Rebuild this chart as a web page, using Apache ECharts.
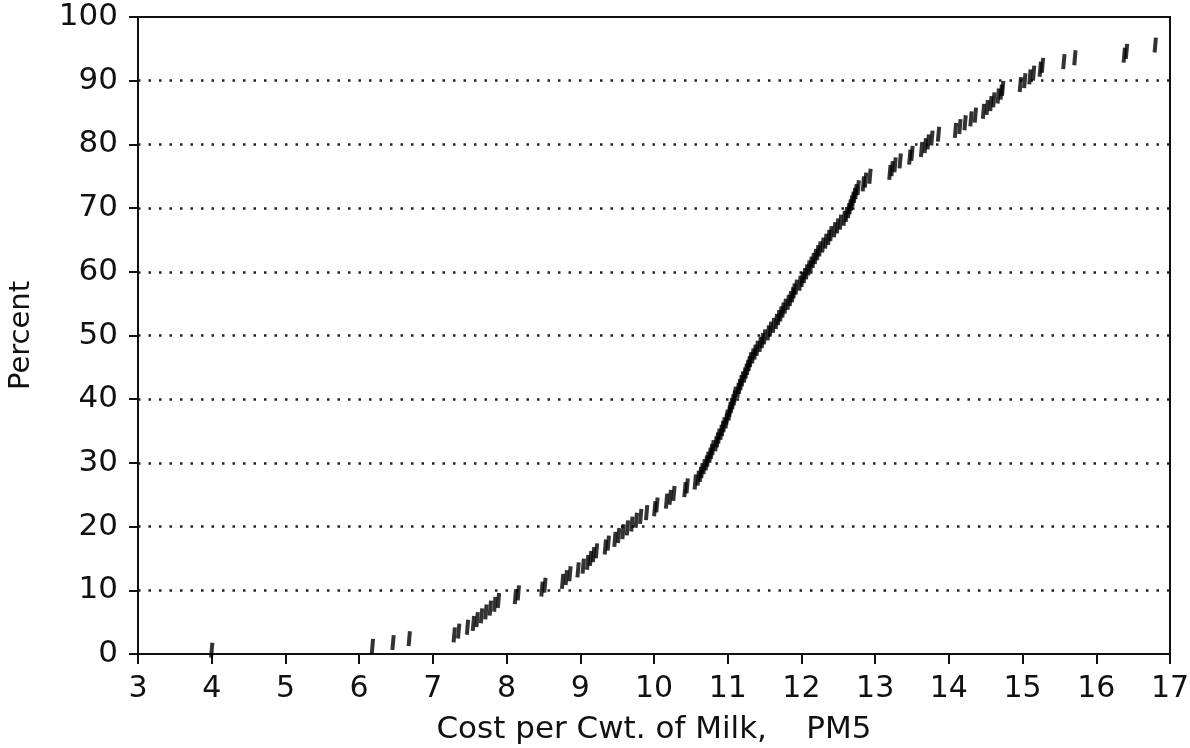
<!DOCTYPE html>
<html>
<head>
<meta charset="utf-8">
<style>
  body { margin: 0; background: #fff; }
</style>
</head>
<body>
<div id="main" style="width: 1190px;height:748px;"></div>
<script src="https://cdn.jsdelivr.net/npm/echarts@6/dist/echarts.min.js" type="text/javascript"></script>
<script type="text/javascript">

    // cost per cwt of milk (x) and cumulative percent (y)
    var costs = [
        4.00, 6.18, 6.46, 6.68, 7.29, 7.35, 7.47, 7.55, 7.60, 7.66,
        7.72, 7.78, 7.84, 7.89, 8.12, 8.16, 8.48, 8.52, 8.76, 8.81,
        8.86, 8.97, 9.04, 9.10, 9.14, 9.18, 9.22, 9.34, 9.38, 9.47,
        9.52, 9.58, 9.64, 9.70, 9.76, 9.82, 9.90, 10.01, 10.04, 10.17,
        10.22, 10.27, 10.42, 10.45, 10.56, 10.60, 10.63, 10.65, 10.68, 10.71,
        10.73, 10.76, 10.78, 10.80, 10.84, 10.86, 10.88, 10.91, 10.93, 10.95,
        10.98, 10.99, 11.02, 11.03, 11.05, 11.07, 11.09, 11.10, 11.14, 11.16,
        11.18, 11.20, 11.23, 11.25, 11.27, 11.29, 11.31, 11.34, 11.37, 11.40,
        11.44, 11.47, 11.50, 11.55, 11.58, 11.62, 11.66, 11.69, 11.72, 11.75,
        11.78, 11.82, 11.85, 11.88, 11.90, 11.93, 11.98, 12.01, 12.04, 12.07,
        12.10, 12.13, 12.16, 12.19, 12.22, 12.25, 12.29, 12.33, 12.37, 12.40,
        12.45, 12.49, 12.53, 12.58, 12.61, 12.64, 12.66, 12.68, 12.70, 12.72,
        12.74, 12.77, 12.84, 12.87, 12.93, 13.20, 13.23, 13.27, 13.34, 13.47,
        13.50, 13.63, 13.68, 13.72, 13.77, 13.86, 14.09, 14.15, 14.22, 14.30,
        14.36, 14.47, 14.52, 14.57, 14.61, 14.67, 14.71, 14.73, 14.97, 15.03,
        15.10, 15.15, 15.24, 15.27, 15.56, 15.71, 16.38, 16.41, 16.80
    ];
    var percents = [
        0.6, 1.2, 1.8, 2.4, 3.0, 3.6, 4.2, 4.8, 5.4, 6.0,
        6.6, 7.2, 7.8, 8.4, 9.0, 9.6, 10.2, 10.8, 11.4, 12.0,
        12.6, 13.2, 13.8, 14.4, 15.0, 15.6, 16.2, 16.8, 17.4, 18.0,
        18.6, 19.2, 19.8, 20.4, 21.0, 21.6, 22.2, 22.8, 23.4, 24.0,
        24.6, 25.2, 25.8, 26.4, 27.0, 27.6, 28.2, 28.8, 29.4, 30.0,
        30.6, 31.2, 31.8, 32.4, 33.0, 33.6, 34.2, 34.8, 35.4, 36.0,
        36.6, 37.2, 37.8, 38.4, 39.0, 39.6, 40.2, 40.8, 41.4, 42.0,
        42.6, 43.2, 43.8, 44.4, 45.0, 45.6, 46.2, 46.8, 47.4, 48.0,
        48.6, 49.2, 49.8, 50.4, 51.0, 51.6, 52.2, 52.8, 53.4, 54.0,
        54.6, 55.2, 55.8, 56.4, 57.0, 57.6, 58.2, 58.8, 59.4, 60.0,
        60.6, 61.2, 61.8, 62.4, 63.0, 63.6, 64.2, 64.8, 65.4, 66.0,
        66.6, 67.2, 67.8, 68.4, 69.0, 69.6, 70.2, 70.8, 71.4, 72.0,
        72.6, 73.2, 73.8, 74.4, 75.0, 75.6, 76.2, 76.8, 77.4, 78.0,
        78.6, 79.2, 79.8, 80.4, 81.0, 81.6, 82.2, 82.8, 83.4, 84.0,
        84.6, 85.2, 85.8, 86.4, 87.0, 87.6, 88.2, 88.8, 89.4, 90.0,
        90.6, 91.2, 91.8, 92.4, 93.0, 93.6, 94.0, 94.6, 95.6
    ];

    var xTicks = [3, 17, 1];     // min, max, step
    var yTicks = [0, 100, 10];

    var points = [];
    costs.forEach(function(c, i){
        points.push([c, percents[i]]);
    });

    var ink = '#111';
    var font = 'DejaVu Sans';
    var myChart = echarts.init(document.getElementById('main'));

    var option = {
        backgroundColor: '#fff',
        animation: false,
        grid: {
            left: 138, right: 20, top: 17, bottom: 94,
            outerBoundsMode: 'none',
            show: true,
            borderColor: ink,
            borderWidth: 2
        },
        xAxis: {
            type: 'value',
            min: xTicks[0], max: xTicks[1], interval: xTicks[2],
            name: 'Cost per Cwt. of Milk,    PM5',
            nameLocation: 'middle',
            nameGap: 60,
            nameTextStyle: { color: ink, fontFamily: font, fontSize: 31 },
            axisLine: { lineStyle: { color: ink, width: 2 } },
            axisTick: { show: true, length: 10, lineStyle: { color: ink, width: 2 } },
            axisLabel: { color: ink, fontFamily: font, fontSize: 30, margin: 20 },
            splitLine: { show: false }
        },
        yAxis: {
            type: 'value',
            min: yTicks[0], max: yTicks[1], interval: yTicks[2],
            name: 'Percent',
            nameLocation: 'middle',
            nameGap: 102,
            nameTextStyle: { color: ink, fontFamily: font, fontSize: 29 },
            axisLine: { show: true, lineStyle: { color: ink, width: 2 } },
            axisTick: { show: true, length: 9, lineStyle: { color: ink, width: 2 } },
            axisLabel: { color: ink, fontFamily: font, fontSize: 31, margin: 20 },
            splitLine: {
                show: true, showMinLine: false, showMaxLine: false,
                lineStyle: { color: '#222', width: 2.5, type: [2.5, 8] }
            }
        },
        series: [{
            type: 'scatter',
            data: points,
            symbol: 'rect',
            symbolSize: [4, 15],
            symbolRotate: -5,
            itemStyle: { color: '#000' }
        }]
    };
    myChart.setOption(option);
</script>
</body>
</html>
